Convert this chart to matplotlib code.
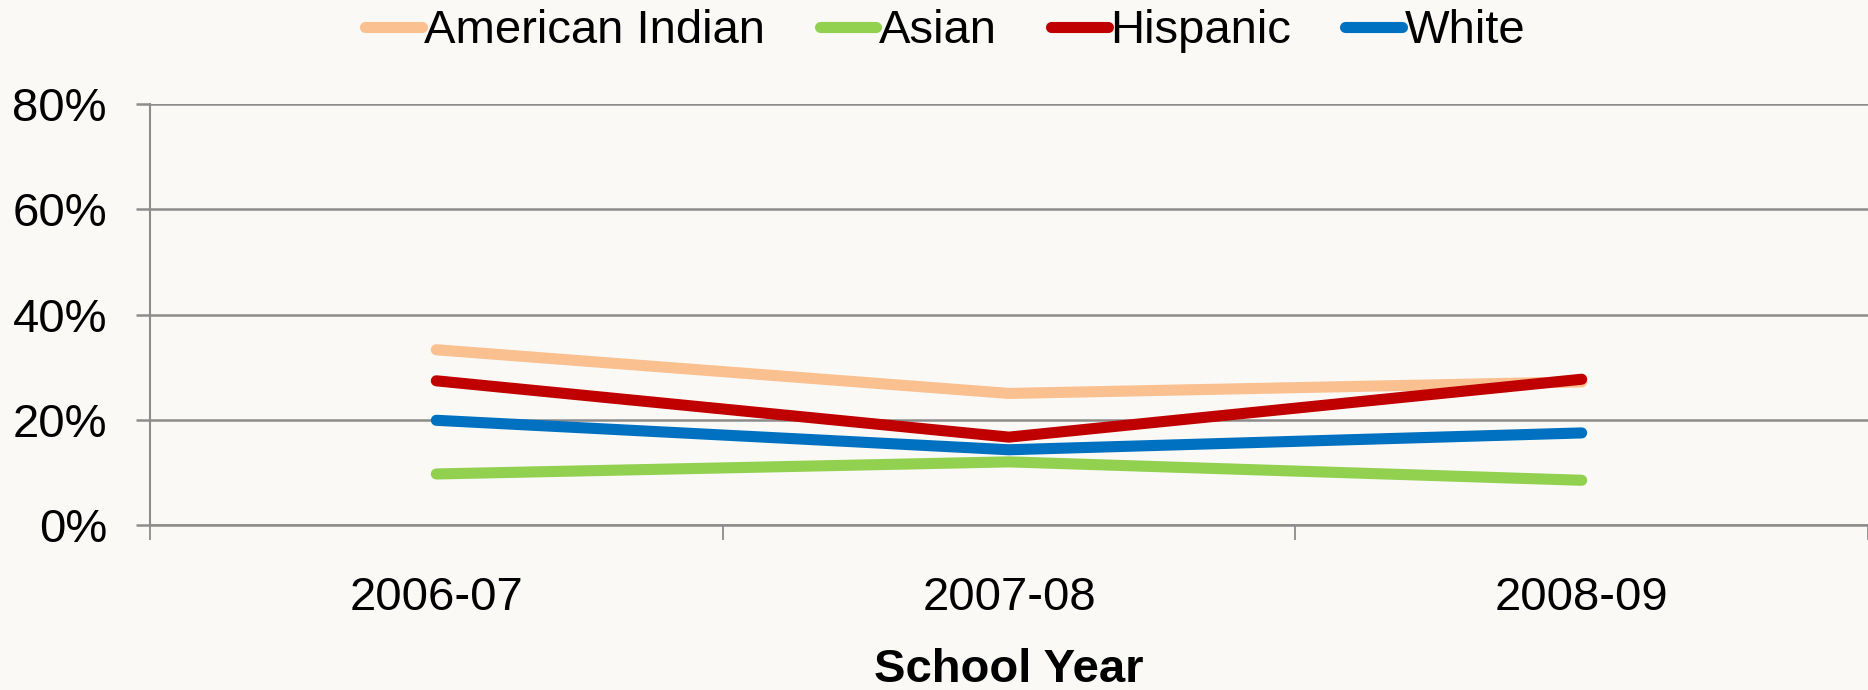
import matplotlib
matplotlib.use("Agg")
import matplotlib.pyplot as plt
from matplotlib.ticker import FixedLocator, PercentFormatter

years = ["2006-07", "2007-08", "2008-09"]
american_indian = [33.3, 25.0, 27.2]
asian = [9.7, 12.0, 8.5]
hispanic = [27.4, 16.7, 27.7]
white = [19.9, 14.3, 17.5]

series = [
    ("American Indian", american_indian, "#FAC090"),
    ("Asian", asian, "#92D050"),
    ("Hispanic", hispanic, "#C00000"),
    ("White", white, "#0070C0"),
]

plt.rcParams['font.family'] = ['Liberation Sans', 'DejaVu Sans']
bg = "#FAF9F5"
grid_col = "#8C8C8C"

fig = plt.figure(figsize=(18.68, 6.9), dpi=100, facecolor=bg)
ax = fig.add_axes([0.0803, 0.2391, 0.9197, 0.6102], facecolor=bg)

x = range(len(years))
for name, vals, col in series:
    ax.plot(x, vals, color=col, lw=8, solid_capstyle="round",
            solid_joinstyle="round", label=name, zorder=3)

ax.set_xlim(-0.5, 2.5)
ax.set_ylim(0, 80)
ax.set_yticks([0, 20, 40, 60, 80])
ax.yaxis.set_major_formatter(PercentFormatter(decimals=0))
ax.yaxis.grid(True, color=grid_col, lw=1.8, zorder=1)

# category boundaries get the tick marks, labels sit between them
ax.xaxis.set_major_locator(FixedLocator([-0.5, 0.5, 1.5, 2.5]))
ax.xaxis.set_major_formatter(plt.NullFormatter())
ax.xaxis.set_minor_locator(FixedLocator(list(x)))
ax.set_xticklabels(years, minor=True)
ax.tick_params(axis="x", which="major", length=11, width=1.3, color=grid_col)
ax.tick_params(axis="x", which="minor", length=0, pad=37, labelsize=34)
ax.tick_params(axis="y", length=10, width=1.8, color=grid_col, pad=21, labelsize=34)

for s in ["top", "right"]:
    ax.spines[s].set_visible(False)
ax.spines["left"].set_color(grid_col)
ax.spines["left"].set_linewidth(1.5)
ax.spines["bottom"].set_color(grid_col)
ax.spines["bottom"].set_linewidth(1.8)
ax.spines["left"].set_bounds(0, 80)

ax.set_xlabel("School Year", fontsize=34, fontweight="bold", labelpad=20)

fig.legend(loc="upper center", bbox_to_anchor=(0.506, 1.048), ncol=4, frameon=False,
           fontsize=34, handlelength=1.2, handletextpad=0.05, columnspacing=1.15)

fig.savefig("out.png", dpi=100, facecolor=bg)
